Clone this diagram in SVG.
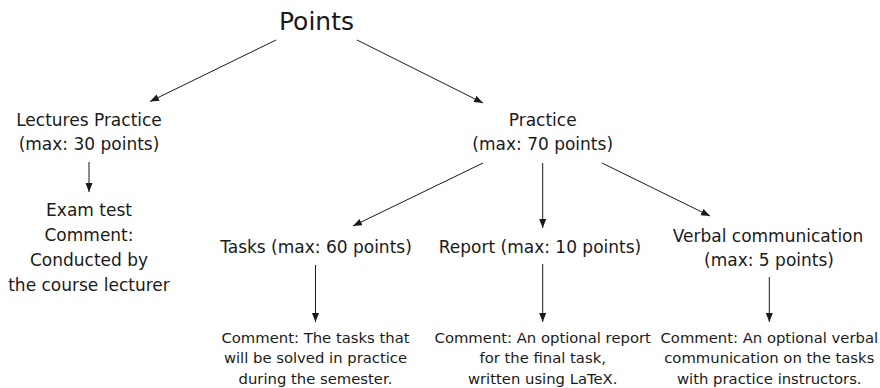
<svg xmlns="http://www.w3.org/2000/svg" width="880" height="388" viewBox="0 0 880 388">
<style>
text{font-family:"DejaVu Sans","Liberation Sans",sans-serif;fill:#1a1a1a;text-anchor:middle}
.t{font-size:17px}
.c{font-size:14.8px}
.big{font-size:25px}
.e line{stroke:#1a1a1a;stroke-width:1;marker-end:url(#ah)}
</style>
<defs>
<marker id="ah" markerUnits="userSpaceOnUse" markerWidth="10" markerHeight="8" refX="9" refY="3.5" orient="auto">
<path d="M0,0 L9,3.5 L0,7 z" fill="#1a1a1a"/>
</marker>
</defs>
<g id="points"><text class="big" x="316.5" y="29.5">Points</text></g>
<g id="lectures"><text class="t" x="89" y="126">Lectures Practice</text><text class="t" x="89" y="150">(max: 30 points)</text></g>
<g id="exam"><text class="t" x="89" y="216">Exam test</text><text class="t" x="89" y="241">Comment:</text><text class="t" x="89" y="266">Conducted by</text><text class="t" x="89" y="291">the course lecturer</text></g>
<g id="practice"><text class="t" x="542.7" y="126">Practice</text><text class="t" x="542.7" y="150">(max: 70 points)</text></g>
<g id="tasks"><text class="t" x="316" y="253">Tasks (max: 60 points)</text></g>
<g id="report"><text class="t" x="540" y="253">Report (max: 10 points)</text></g>
<g id="verbal"><text class="t" x="768" y="242">Verbal communication</text><text class="t" x="769" y="266">(max: 5 points)</text></g>
<g id="tasks-comment"><text class="c" x="315.5" y="342.7">Comment: The tasks that</text><text class="c" x="315.5" y="363.3">will be solved in practice</text><text class="c" x="315.5" y="384">during the semester.</text></g>
<g id="report-comment"><text class="c" x="542.7" y="342.7">Comment: An optional report</text><text class="c" x="542.7" y="363.3">for the final task,</text><text class="c" x="542.7" y="384">written using LaTeX.</text></g>
<g id="verbal-comment"><text class="c" x="769.3" y="342.7">Comment: An optional verbal</text><text class="c" x="769.3" y="363.3">communication on the tasks</text><text class="c" x="769.3" y="384">with practice instructors.</text></g>
<g id="edges" class="e">
<line x1="276" y1="40" x2="150" y2="101.5"/>
<line x1="357" y1="40" x2="483" y2="103"/>
<line x1="89" y1="162" x2="89" y2="192"/>
<line x1="483" y1="163" x2="353" y2="226"/>
<line x1="542.7" y1="163" x2="542.7" y2="228"/>
<line x1="602" y1="163" x2="710" y2="216"/>
<line x1="315.5" y1="265" x2="315.5" y2="322"/>
<line x1="542.7" y1="264" x2="542.7" y2="322"/>
<line x1="769.3" y1="277" x2="769.3" y2="322"/>
</g>
</svg>
